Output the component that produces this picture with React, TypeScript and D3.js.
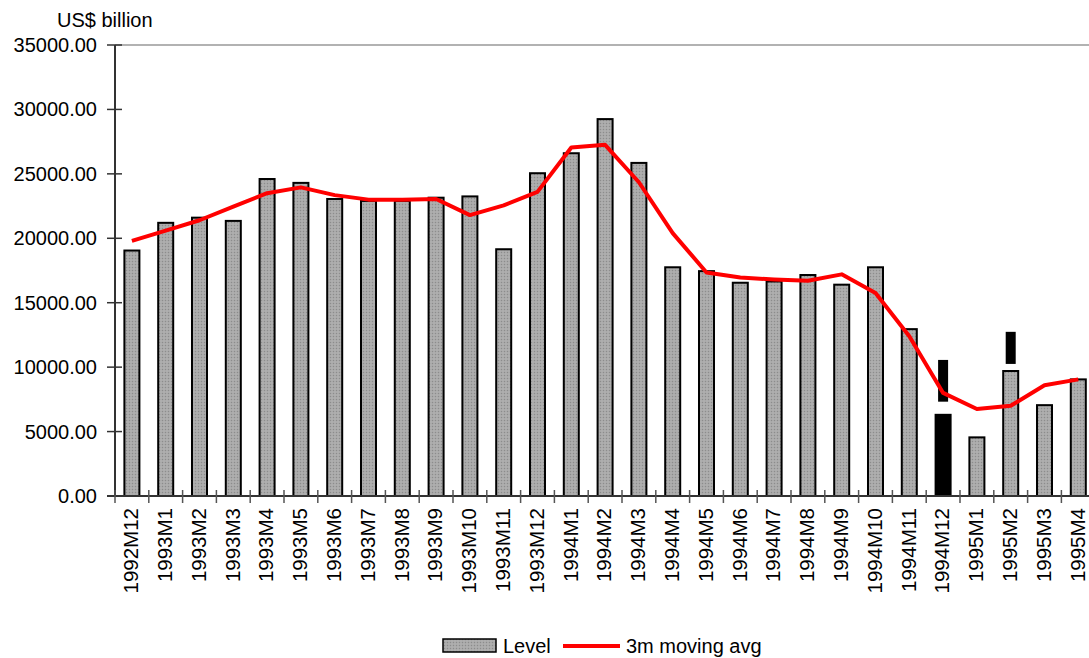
import * as d3 from 'd3';

const months = [
  '1992M12', '1993M1', '1993M2', '1993M3', '1993M4', '1993M5', '1993M6', '1993M7',
  '1993M8', '1993M9', '1993M10', '1993M11', '1993M12', '1994M1', '1994M2', '1994M3',
  '1994M4', '1994M5', '1994M6', '1994M7', '1994M8', '1994M9', '1994M10', '1994M11',
  '1994M12', '1995M1', '1995M2', '1995M3', '1995M4',
];

const level = [
  19050, 21200, 21600, 21350, 24600, 24300, 23050, 22900,
  22900, 23150, 23250, 19150, 25050, 26600, 29250, 25850,
  17750, 17450, 16550, 16650, 17150, 16400, 17750, 12950,
  6300, 4550, 9700, 7050, 9050,
];

const movingAvg = [
  19800, 20600, 21400, 22450, 23500, 23950, 23350, 23000,
  23000, 23050, 21800, 22550, 23600, 27050, 27250, 24350,
  20400, 17350, 16950, 16800, 16700, 17200, 15750, 12400,
  8000, 6750, 7000, 8600, 9050,
];

// odd black blocks that appear on the original picture
const blackBars = ['1994M12'];
const blackBlocks = [
  { month: '1994M12', lo: 7320, hi: 10560 },
  { month: '1995M2', lo: 10250, hi: 12740 },
];

const yTicks = [0, 5000, 10000, 15000, 20000, 25000, 30000, 35000];

const width = 1089;
const height = 658;
const left = 115;
const top = 45;
const bottom = 496;
const step = 33.8;
const font = 'Liberation Sans, Arial, sans-serif';

export default function App() {
  const x = d3
    .scaleBand<string>()
    .domain(months)
    .range([left, left + step * months.length])
    .paddingInner(0.556)
    .paddingOuter(0.278);
  const y = d3.scaleLinear().domain([0, 35000]).range([bottom, top]);
  const cx = (m: string) => (x(m) ?? 0) + x.bandwidth() / 2;

  const line = d3
    .line<number>()
    .x((_, i) => cx(months[i]))
    .y((d) => y(d));

  return (
    <div style={{ position: 'absolute', left: 0, top: 0 }}>
      <svg width={width} height={height} style={{ display: 'block', background: '#fff' }}>
        <defs>
          <pattern id='dots' width={3} height={3} patternUnits='userSpaceOnUse'>
            <rect width={3} height={3} fill='#a8a8a8' />
            <rect width={1} height={1} fill='#8c8c8c' />
            <rect x={1.5} y={1.5} width={1} height={1} fill='#c0c0c0' />
          </pattern>
        </defs>

        {/* top frame line */}
        <line x1={left} x2={width} y1={top} y2={top} stroke='#999' strokeWidth={1.5} />

        {/* bars */}
        {months.map((m, i) => (
          <rect
            key={m}
            x={x(m)}
            y={y(level[i])}
            width={x.bandwidth()}
            height={y(0) - y(level[i])}
            fill={blackBars.includes(m) ? '#000' : 'url(#dots)'}
            stroke='#000'
            strokeWidth={2}
          />
        ))}
        {blackBlocks.map((b) => (
          <rect
            key={b.month}
            x={cx(b.month) - 5}
            y={y(b.hi)}
            width={10}
            height={y(b.lo) - y(b.hi)}
            fill='#000'
          />
        ))}

        {/* y axis */}
        <line x1={left} x2={left} y1={top} y2={bottom} stroke='#333' strokeWidth={2} />
        {yTicks.map((t) => (
          <g key={t}>
            <line x1={left - 8} x2={left + 7} y1={y(t)} y2={y(t)} stroke='#333' strokeWidth={1.5} />
            <text
              x={97}
              y={y(t)}
              dy='0.35em'
              textAnchor='end'
              fontFamily={font}
              fontSize={20}
              fill='#000'>
              {d3.format('.2f')(t)}
            </text>
          </g>
        ))}
        <text x={57} y={27} fontFamily={font} fontSize={20} fill='#000'>
          US$ billion
        </text>

        {/* x axis */}
        <line x1={left - 8} x2={width} y1={bottom} y2={bottom} stroke='#333' strokeWidth={2} />
        {months.map((m, i) => (
          <line
            key={m}
            x1={left + step * i}
            x2={left + step * i}
            y1={bottom - 6}
            y2={bottom + 7}
            stroke='#555'
            strokeWidth={1.5}
          />
        ))}
        {months.map((m) => (
          <text
            key={m}
            transform={`translate(${cx(m) - 1}, 508) rotate(-90)`}
            dy='0.36em'
            textAnchor='end'
            fontFamily={font}
            fontSize={20.5}
            fill='#000'>
            {m}
          </text>
        ))}

        {/* moving average */}
        <path d={line(movingAvg) ?? ''} fill='none' stroke='#ff0000' strokeWidth={4} strokeLinejoin='round' />

        {/* legend */}
        <rect x={443} y={639} width={53} height={13} fill='url(#dots)' stroke='#000' strokeWidth={1.5} />
        <text x={503} y={653} fontFamily={font} fontSize={20} fill='#000'>
          Level
        </text>
        <line x1={563} x2={620} y1={646} y2={646} stroke='#ff0000' strokeWidth={4} />
        <text x={626} y={653} fontFamily={font} fontSize={20} fill='#000'>
          3m moving avg
        </text>
      </svg>
    </div>
  );
}
